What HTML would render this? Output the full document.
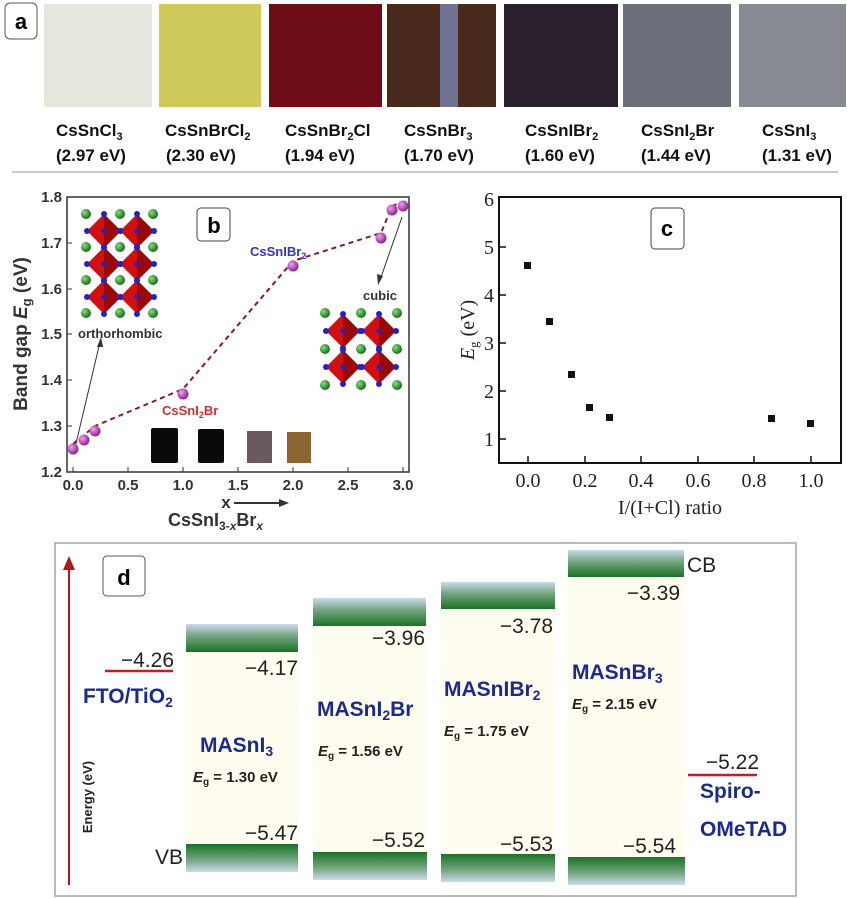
<!DOCTYPE html>
<html><head><meta charset="utf-8"><style>
html,body{margin:0;padding:0;background:#fff;}
svg{display:block;}
</style></head><body>
<svg width="847" height="898" viewBox="0 0 847 898" xmlns="http://www.w3.org/2000/svg" font-family="Liberation Sans,sans-serif">
<defs>
<linearGradient id="cb" x1="0" y1="0" x2="0" y2="1"><stop offset="0" stop-color="#cdd9ee"/><stop offset="0.45" stop-color="#6fa47a"/><stop offset="1" stop-color="#1b7226"/></linearGradient>
<linearGradient id="vb" x1="0" y1="0" x2="0" y2="1"><stop offset="0" stop-color="#1b7226"/><stop offset="0.55" stop-color="#6fa47a"/><stop offset="1" stop-color="#cdd9ee"/></linearGradient>
<radialGradient id="pb" cx="0.35" cy="0.35" r="0.7"><stop offset="0" stop-color="#f0a0f0"/><stop offset="1" stop-color="#8a1a8a"/></radialGradient>
<radialGradient id="gb" cx="0.35" cy="0.35" r="0.7"><stop offset="0" stop-color="#7fe07f"/><stop offset="1" stop-color="#136613"/></radialGradient>
<g id="oct"><polygon points="0,-17 17,0 0,17 -17,0" fill="#d01010"/><polygon points="0,-17 17,0 0,17" fill="#9a0808"/><circle cx="0" cy="-17" r="3" fill="#2222cc"/><circle cx="17" cy="0" r="3" fill="#2222cc"/><circle cx="0" cy="17" r="3" fill="#2222cc"/><circle cx="-17" cy="0" r="3" fill="#2222cc"/><circle cx="0" cy="0" r="2.5" fill="#2222cc"/></g>
<circle id="g" r="5" fill="url(#gb)"/>
</defs>

<!-- Panel a -->
<rect x="5" y="3" width="32" height="36" rx="5" fill="#fff" stroke="#555" stroke-width="1"/>
<text x="21" y="29" font-size="22" font-weight="bold" text-anchor="middle">a</text>
<rect x="44" y="4" width="108" height="103" fill="#e6e8de"/>
<rect x="159" y="4" width="102" height="103" fill="#cfc95a"/>
<rect x="269" y="4" width="113" height="103" fill="#6e0d16"/>
<rect x="387" y="4" width="109" height="103" fill="#4a2a1c"/>
<rect x="440" y="4" width="18" height="103" fill="#7a86b0" opacity="0.8"/>
<rect x="504" y="4" width="114" height="103" fill="#2a1f2c"/>
<rect x="623" y="4" width="108" height="103" fill="#6d707b"/>
<rect x="739" y="4" width="107" height="103" fill="#878a92"/>
<g font-size="17" font-weight="bold" fill="#111">
<text x="56" y="136">CsSnCl<tspan font-size="11" dy="4">3</tspan></text><text x="56" y="161">(2.97 eV)</text>
<text x="165" y="136">CsSnBrCl<tspan font-size="11" dy="4">2</tspan></text><text x="166" y="161">(2.30 eV)</text>
<text x="285" y="136">CsSnBr<tspan font-size="11" dy="4">2</tspan><tspan dy="-4">Cl</tspan></text><text x="285" y="161">(1.94 eV)</text>
<text x="404" y="136">CsSnBr<tspan font-size="11" dy="4">3</tspan></text><text x="404" y="161">(1.70 eV)</text>
<text x="525" y="136">CsSnIBr<tspan font-size="11" dy="4">2</tspan></text><text x="525" y="161">(1.60 eV)</text>
<text x="641" y="136">CsSnI<tspan font-size="11" dy="4">2</tspan><tspan dy="-4">Br</tspan></text><text x="641" y="161">(1.44 eV)</text>
<text x="762" y="136">CsSnI<tspan font-size="11" dy="4">3</tspan></text><text x="762" y="161">(1.31 eV)</text>
</g>
<line x1="12" y1="172" x2="838" y2="172" stroke="#bbb" stroke-width="1.5"/>

<!-- Panel b -->
<rect x="67" y="197" width="342" height="275" fill="none" stroke="#333" stroke-width="1.5"/>
<g stroke="#333" stroke-width="1">
<line x1="73" y1="472" x2="73" y2="467"/><line x1="128" y1="472" x2="128" y2="467"/><line x1="183" y1="472" x2="183" y2="467"/><line x1="238" y1="472" x2="238" y2="467"/><line x1="293" y1="472" x2="293" y2="467"/><line x1="348" y1="472" x2="348" y2="467"/><line x1="403" y1="472" x2="403" y2="467"/>
<line x1="67" y1="426" x2="72" y2="426"/><line x1="67" y1="380" x2="72" y2="380"/><line x1="67" y1="334" x2="72" y2="334"/><line x1="67" y1="289" x2="72" y2="289"/><line x1="67" y1="243" x2="72" y2="243"/>
</g>
<g font-size="15" font-weight="bold" fill="#333" text-anchor="end">
<text x="62" y="477">1.2</text><text x="62" y="431">1.3</text><text x="62" y="385">1.4</text><text x="62" y="339">1.5</text><text x="62" y="294">1.6</text><text x="62" y="248">1.7</text><text x="62" y="202">1.8</text>
</g>
<g font-size="15" font-weight="bold" fill="#333" text-anchor="middle">
<text x="73" y="490">0.0</text><text x="128" y="490">0.5</text><text x="183" y="490">1.0</text><text x="238" y="490">1.5</text><text x="293" y="490">2.0</text><text x="348" y="490">2.5</text><text x="403" y="490">3.0</text>
</g>
<text x="226" y="508" font-size="17" font-weight="bold" fill="#333" text-anchor="middle">x</text>
<line x1="234" y1="503" x2="282" y2="503" stroke="#333" stroke-width="2"/><polygon points="289,503 279,499 279,507" fill="#333"/>
<text x="168" y="526" font-size="18" font-weight="bold" fill="#333">CsSnI<tspan font-size="12" dy="4">3-<tspan font-style="italic">x</tspan></tspan><tspan dy="-4">Br</tspan><tspan font-size="12" dy="4" font-style="italic">x</tspan></text>
<text transform="translate(27,334) rotate(-90)" font-size="19" font-weight="bold" fill="#333" text-anchor="middle">Band gap <tspan font-style="italic">E</tspan><tspan font-size="13" dy="4">g</tspan><tspan dy="-4"> (eV)</tspan></text>
<g>
<use href="#g" x="86" y="214"/><use href="#g" x="120" y="214"/><use href="#g" x="153" y="214"/>
<use href="#g" x="86" y="247"/><use href="#g" x="120" y="247"/><use href="#g" x="153" y="247"/>
<use href="#g" x="86" y="280"/><use href="#g" x="120" y="280"/><use href="#g" x="153" y="280"/>
<use href="#g" x="86" y="313"/><use href="#g" x="120" y="313"/><use href="#g" x="153" y="313"/>
<use href="#oct" x="104" y="231"/><use href="#oct" x="137" y="231"/>
<use href="#oct" x="104" y="264"/><use href="#oct" x="137" y="264"/>
<use href="#oct" x="104" y="297"/><use href="#oct" x="137" y="297"/>
</g>
<text x="78" y="338" font-size="13" font-weight="bold" fill="#333">orthorhombic</text>
<line x1="74" y1="452" x2="100" y2="342" stroke="#333" stroke-width="1"/><polygon points="101,337 97,347 103,347" fill="#333"/>
<g>
<use href="#g" x="325" y="313"/><use href="#g" x="361" y="313"/><use href="#g" x="397" y="313"/>
<use href="#g" x="325" y="349"/><use href="#g" x="361" y="349"/><use href="#g" x="397" y="349"/>
<use href="#g" x="325" y="385"/><use href="#g" x="361" y="385"/><use href="#g" x="397" y="385"/>
<use href="#oct" x="343" y="331"/><use href="#oct" x="379" y="331"/>
<use href="#oct" x="343" y="367"/><use href="#oct" x="379" y="367"/>
</g>
<text x="363" y="300" font-size="13" font-weight="bold" fill="#333">cubic</text>
<line x1="402" y1="217" x2="380" y2="280" stroke="#333" stroke-width="1"/><polygon points="378,285 377,274 383,276" fill="#333"/>
<rect x="151" y="428" width="27" height="35" rx="2" fill="#0a0a0a"/>
<rect x="198" y="429" width="26" height="34" rx="2" fill="#0a0a0a"/>
<rect x="247" y="431" width="25" height="32" fill="#6a5a5e"/>
<rect x="287" y="432" width="24" height="31" fill="#8a6530"/>
<rect x="197" y="208" width="33" height="33" rx="4" fill="#fff" stroke="#444"/>
<text x="214" y="233" font-size="22" font-weight="bold" text-anchor="middle">b</text>
<polyline points="73,444 84,435 95,426 183,389 293,261 381,233 392,206 403,202" fill="none" stroke="#8a1a2a" stroke-width="2" stroke-dasharray="5,4"/>
<g fill="url(#pb)">
<circle cx="73" cy="449" r="5.5"/><circle cx="84" cy="440" r="5.5"/><circle cx="95" cy="431" r="5.5"/><circle cx="183" cy="394" r="5.5"/><circle cx="293" cy="266" r="5.5"/><circle cx="381" cy="238" r="5.5"/><circle cx="392" cy="210" r="5.5"/><circle cx="403" cy="206" r="5.5"/>
</g>
<text x="162" y="415" font-size="13" font-weight="bold" fill="#d03030">CsSnI<tspan font-size="9" dy="3">2</tspan><tspan dy="-3">Br</tspan></text>
<text x="250" y="256" font-size="13" font-weight="bold" fill="#3333cc">CsSnIBr<tspan font-size="9" dy="3">2</tspan></text>

<!-- Panel c -->
<rect x="499" y="197" width="342" height="266" fill="none" stroke="#111" stroke-width="2"/>
<g stroke="#111" stroke-width="1.5">
<line x1="528" y1="463" x2="528" y2="456"/><line x1="585" y1="463" x2="585" y2="456"/><line x1="641" y1="463" x2="641" y2="456"/><line x1="698" y1="463" x2="698" y2="456"/><line x1="754" y1="463" x2="754" y2="456"/><line x1="811" y1="463" x2="811" y2="456"/>
<line x1="499" y1="439" x2="506" y2="439"/><line x1="499" y1="391" x2="506" y2="391"/><line x1="499" y1="343" x2="506" y2="343"/><line x1="499" y1="295" x2="506" y2="295"/><line x1="499" y1="247" x2="506" y2="247"/>
</g>
<g font-family="Liberation Serif,serif" font-size="20" fill="#222">
<g text-anchor="end">
<text x="494" y="446">1</text><text x="494" y="398">2</text><text x="494" y="350">3</text><text x="494" y="302">4</text><text x="494" y="254">5</text><text x="494" y="206">6</text>
</g>
<g text-anchor="middle">
<text x="528" y="487">0.0</text><text x="585" y="487">0.2</text><text x="641" y="487">0.4</text><text x="698" y="487">0.6</text><text x="754" y="487">0.8</text><text x="811" y="487">1.0</text>
</g>
<text x="670" y="514" text-anchor="middle">I/(I+Cl) ratio</text>
<text transform="translate(474,330) rotate(-90)" text-anchor="middle"><tspan font-style="italic">E</tspan><tspan font-size="13" dy="4">g</tspan><tspan dy="-4"> (eV)</tspan></text>
</g>
<rect x="651" y="208" width="33" height="41" rx="4" fill="#fff" stroke="#444"/>
<text x="667" y="236" font-size="22" font-weight="bold" text-anchor="middle">c</text>
<g fill="#111">
<rect x="524" y="262" width="7" height="7"/><rect x="546" y="318" width="7" height="7"/><rect x="568" y="371" width="7" height="7"/><rect x="586" y="404" width="7" height="7"/><rect x="606" y="414" width="7" height="7"/><rect x="768" y="415" width="7" height="7"/><rect x="807" y="420" width="7" height="7"/>
</g>

<!-- Panel d -->
<rect x="55" y="543" width="741" height="353" fill="#fff" stroke="#9aa6b0" stroke-width="1.5"/>
<line x1="69" y1="885" x2="69" y2="565" stroke="#b01818" stroke-width="2"/><polygon points="69,556 63,570 75,570" fill="#b01818"/>
<text transform="translate(92,797) rotate(-90)" font-size="13" font-weight="bold" fill="#222" text-anchor="middle">Energy (eV)</text>
<rect x="103" y="556" width="42" height="40" rx="4" fill="#fff" stroke="#555"/>
<text x="124" y="585" font-size="22" font-weight="bold" text-anchor="middle">d</text>
<g fill="#fffdf0">
<rect x="186" y="652" width="112" height="192"/><rect x="313" y="626" width="113" height="226"/><rect x="441" y="609" width="114" height="245"/><rect x="568" y="577" width="117" height="280"/>
</g>
<rect x="186" y="624" width="112" height="28" fill="url(#cb)"/>
<rect x="186" y="844" width="112" height="28" fill="url(#vb)"/>
<rect x="313" y="598" width="113" height="28" fill="url(#cb)"/>
<rect x="313" y="852" width="114" height="28" fill="url(#vb)"/>
<rect x="441" y="582" width="114" height="27" fill="url(#cb)"/>
<rect x="441" y="854" width="114" height="28" fill="url(#vb)"/>
<rect x="568" y="550" width="116" height="27" fill="url(#cb)"/>
<rect x="568" y="857" width="117" height="28" fill="url(#vb)"/>
<line x1="105" y1="671" x2="173" y2="671" stroke="#c02020" stroke-width="2.5"/>
<line x1="688" y1="775" x2="757" y2="775" stroke="#c02020" stroke-width="2.5"/>
<g font-size="21" fill="#222">
<text x="174" y="667" text-anchor="end">−4.26</text>
<text x="298" y="675" text-anchor="end">−4.17</text>
<text x="425" y="645" text-anchor="end">−3.96</text>
<text x="553" y="633" text-anchor="end">−3.78</text>
<text x="680" y="600" text-anchor="end">−3.39</text>
<text x="298" y="840" text-anchor="end">−5.47</text>
<text x="425" y="847" text-anchor="end">−5.52</text>
<text x="553" y="851" text-anchor="end">−5.53</text>
<text x="676" y="853" text-anchor="end">−5.54</text>
<text x="759" y="769" text-anchor="end">−5.22</text>
<text x="687" y="572">CB</text>
<text x="155" y="864">VB</text>
</g>
<g font-size="21" font-weight="bold" fill="#1a2a90">
<text x="83" y="703">FTO/TiO<tspan font-size="14" dy="4">2</tspan></text>
<text x="200" y="752">MASnI<tspan font-size="14" dy="4">3</tspan></text>
<text x="317" y="716">MASnI<tspan font-size="14" dy="4">2</tspan><tspan dy="-4">Br</tspan></text>
<text x="444" y="696">MASnIBr<tspan font-size="14" dy="4">2</tspan></text>
<text x="572" y="679">MASnBr<tspan font-size="14" dy="4">3</tspan></text>
<text x="700" y="798">Spiro-</text>
<text x="700" y="836">OMeTAD</text>
</g>
<g font-size="15" font-weight="bold" fill="#222">
<text x="193" y="782"><tspan font-style="italic">E</tspan><tspan font-size="10" dy="3">g</tspan><tspan dy="-3"> = 1.30 eV</tspan></text>
<text x="318" y="756"><tspan font-style="italic">E</tspan><tspan font-size="10" dy="3">g</tspan><tspan dy="-3"> = 1.56 eV</tspan></text>
<text x="444" y="736"><tspan font-style="italic">E</tspan><tspan font-size="10" dy="3">g</tspan><tspan dy="-3"> = 1.75 eV</tspan></text>
<text x="572" y="709"><tspan font-style="italic">E</tspan><tspan font-size="10" dy="3">g</tspan><tspan dy="-3"> = 2.15 eV</tspan></text>
</g>
</svg>
</body></html>
